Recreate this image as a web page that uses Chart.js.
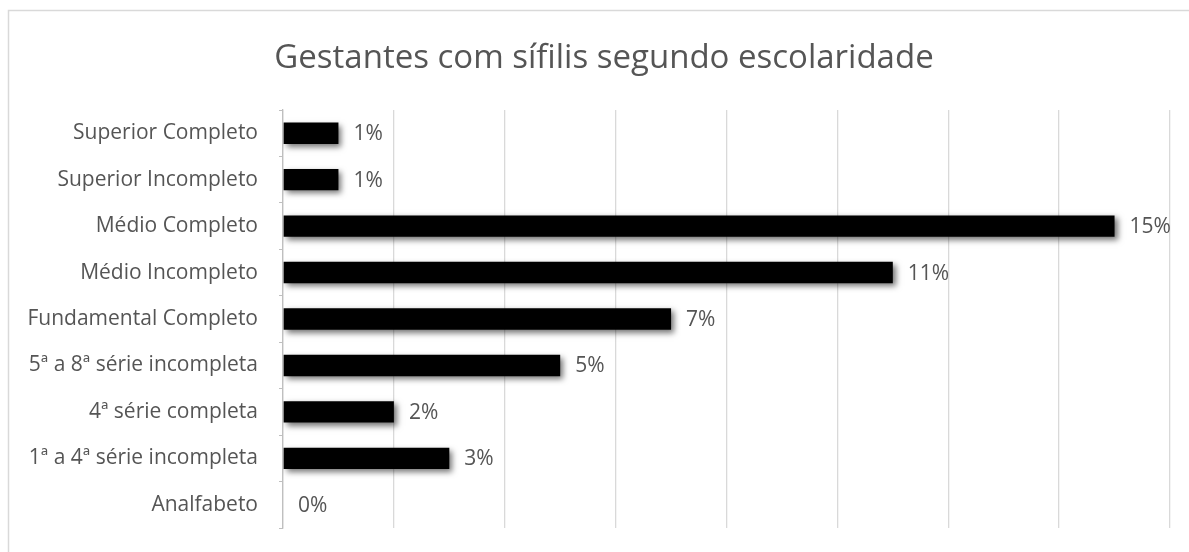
<!DOCTYPE html>
<html lang="pt">
<head>
  <meta charset="UTF-8">
  <title>Gestantes com sífilis segundo escolaridade</title>
  <script src="https://cdn.jsdelivr.net/npm/chart.js"></script>
  <style>
    html, body { margin: 0; padding: 0; background: #fff; }
  </style>
</head>
<body>
  <canvas id="barChart" width="1189" height="552"></canvas>

  <script>
    // Chart data (top to bottom, as in the original)
    const categories = [
      'Superior Completo',
      'Superior Incompleto',
      'Médio Completo',
      'Médio Incompleto',
      'Fundamental Completo',
      '5ª a 8ª série incompleta',
      '4ª série completa',
      '1ª a 4ª série incompleta',
      'Analfabeto'
    ];
    const percentages = [1, 1, 15, 11, 7, 5, 2, 3, 0];
    const titleText = 'Gestantes com sífilis segundo escolaridade';

    const textColor = '#555555';
    const fontFamily = '"Open Sans", "Noto Sans", sans-serif';

    // Frame, title, bar shadows and value labels
    const decorations = {
      id: 'decorations',
      beforeDraw(chart) {
        const ctx = chart.ctx;
        ctx.save();
        ctx.fillStyle = '#fff';
        ctx.fillRect(0, 0, chart.width, chart.height);
        ctx.strokeStyle = '#d9d9d9';
        ctx.lineWidth = 1.5;
        ctx.strokeRect(8.5, 10.5, chart.width + 10, chart.height + 10);
        ctx.fillStyle = textColor;
        ctx.font = '33px ' + fontFamily;
        ctx.textAlign = 'center';
        ctx.textBaseline = 'alphabetic';
        ctx.fillText(titleText, 604, 68);
        ctx.restore();
      },
      beforeDatasetsDraw(chart) {
        const ctx = chart.ctx;
        ctx.save();
        ctx.shadowColor = 'rgba(0, 0, 0, 0.55)';
        ctx.shadowBlur = 6;
        ctx.shadowOffsetX = 3;
        ctx.shadowOffsetY = 3;
      },
      afterDatasetsDraw(chart) {
        const ctx = chart.ctx;
        ctx.restore();
        ctx.save();
        ctx.fillStyle = textColor;
        ctx.font = '21px ' + fontFamily;
        ctx.textAlign = 'left';
        ctx.textBaseline = 'middle';
        chart.getDatasetMeta(0).data.forEach((bar, i) => {
          ctx.fillText(percentages[i] + '%', bar.x + 15, bar.y + 1);
        });
        ctx.restore();
      }
    };

    new Chart(document.getElementById('barChart').getContext('2d'), {
      type: 'bar',
      data: {
        labels: categories,
        datasets: [{
          data: percentages,
          backgroundColor: '#000',
          borderWidth: 0,
          categoryPercentage: 1,
          barPercentage: 0.46
        }]
      },
      options: {
        indexAxis: 'y',
        responsive: false,
        animation: false,
        layout: { padding: { left: 0, top: 110, right: 19, bottom: 24 } },
        plugins: {
          legend: { display: false },
          title: { display: false },
          tooltip: { enabled: false }
        },
        scales: {
          x: {
            min: 0,
            max: 16,
            ticks: { display: false, stepSize: 2 },
            grid: { color: '#d9d9d9', lineWidth: 1.3, drawTicks: false },
            border: { display: false }
          },
          y: {
            grid: {
              drawOnChartArea: false,
              drawTicks: true,
              tickLength: 4,
              color: '#bfbfbf',
              offset: true
            },
            border: { display: true, color: '#bfbfbf', width: 1.3 },
            ticks: {
              color: textColor,
              font: { family: fontFamily, size: 21 },
              padding: 21
            },
            afterFit(scale) {
              scale.width = 283;
              // the label padding should not shrink the plot vertically
              scale.paddingTop = 0;
              scale.paddingBottom = 0;
            }
          }
        }
      },
      plugins: [decorations]
    });
  </script>
</body>
</html>
